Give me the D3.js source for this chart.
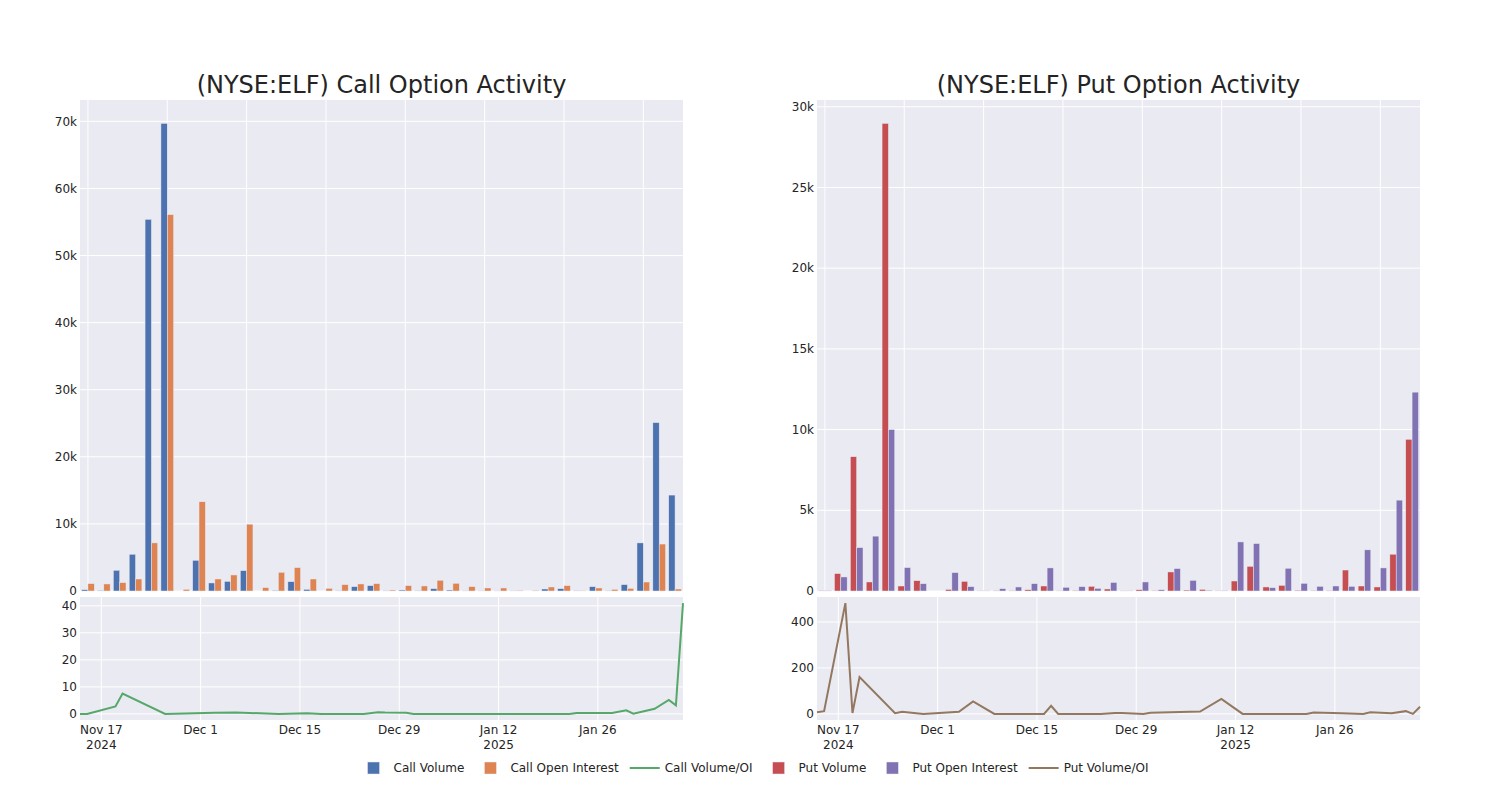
<!DOCTYPE html>
<html>
<head>
<meta charset="utf-8">
<script src="https://cdn.jsdelivr.net/npm/d3@7"></script>
<style>
  body { margin: 0; background: #ffffff; }
  svg text { font-family: "DejaVu Sans", sans-serif; fill: #242424; }
</style>
</head>
<body>
<div id="container"></div>
<script>
/* DATA */
// one category per trading day shown in the bar panels
const barDates = [
  "2024-11-14","2024-11-15","2024-11-18","2024-11-19","2024-11-20","2024-11-21","2024-11-22","2024-11-25",
  "2024-11-26","2024-11-29","2024-12-03","2024-12-04","2024-12-06","2024-12-09","2024-12-12","2024-12-16",
  "2024-12-17","2024-12-18","2024-12-20","2024-12-24","2024-12-26","2024-12-27","2024-12-30","2024-12-31",
  "2025-01-03","2025-01-07","2025-01-10","2025-01-13","2025-01-17","2025-01-22","2025-01-23","2025-01-28",
  "2025-01-30","2025-01-31","2025-02-03","2025-02-05","2025-02-06","2025-02-07"
];
const callVolume = [200,100,3090,5480,55400,69700,0,4580,1200,1440,3040,0,100,1390,250,0,
  30,650,800,30,150,50,350,150,20,20,20,20,0,300,350,30,650,50,950,7170,25100,14300];
const callOpenInterest = [1100,1050,1250,1790,7170,56100,250,13300,1790,2390,9960,500,2790,3490,1790,400,
  950,1050,1100,150,800,750,1600,1150,650,450,450,100,100,600,800,30,450,250,400,1340,7000,300];
const putVolume = [30,1080,8320,560,28970,310,640,0,100,600,10,30,30,80,310,20,
  40,290,125,20,80,30,1180,60,100,10,620,1530,250,350,50,30,30,1300,310,250,2280,9400];
const putOpenInterest = [30,870,2690,3400,10000,1450,455,0,1140,270,20,145,250,455,1430,230,
  270,165,530,20,560,80,1390,660,50,30,3040,2940,205,1410,475,290,310,290,2550,1430,5630,12320];

// volume / OI lines (dates on a time axis)
const callRatioDates = ["2024-11-14","2024-11-15","2024-11-19","2024-11-20","2024-11-26","2024-12-03","2024-12-06",
  "2024-12-12","2024-12-16","2024-12-18","2024-12-24","2024-12-26","2024-12-27","2024-12-30","2024-12-31",
  "2025-01-22","2025-01-23","2025-01-28","2025-01-30","2025-01-31","2025-02-03","2025-02-05","2025-02-06","2025-02-07"];
const callRatio = [0,0,2.75,7.5,0,0.4,0.5,0,0.25,0,0,0.6,0.5,0.4,0,0,0.3,0.3,1.3,0.1,1.9,5.2,3.2,41];

const putRatioDates = ["2024-11-14","2024-11-15","2024-11-18","2024-11-19","2024-11-20","2024-11-25","2024-11-26",
  "2024-11-29","2024-12-04","2024-12-06","2024-12-09","2024-12-16","2024-12-17","2024-12-18","2024-12-24",
  "2024-12-26","2024-12-27","2024-12-30","2024-12-31","2025-01-07","2025-01-10","2025-01-13","2025-01-22",
  "2025-01-23","2025-01-27","2025-01-30","2025-01-31","2025-02-03","2025-02-05","2025-02-06","2025-02-07"];
const putRatio = [7,12,482,4,160,3,9,0,9,54,0,0,35,0,0,4,4,0,5,10,65,0,0,6,3,0,7,3,12,0,31];

const dateTicks = ["2024-11-17","2024-12-01","2024-12-15","2024-12-29","2025-01-12","2025-01-26"];

/* CONSTANTS */
const W = 1500, H = 800;
const topY = [100, 591];
const botY = [597, 720];
const parseDate = d3.utcParse("%Y-%m-%d");
const bg = "#EAEAF2";

const svg = d3.select("#container")
  .append("svg")
  .attr("width", W)
  .attr("height", H);

function drawPanel(p) {
  const g = svg.append("g");

  // top: grouped bars on a category axis
  const x0 = d3.scaleBand()
    .domain(d3.range(barDates.length))
    .range([p.left, p.right])
    .paddingInner(0.2)
    .paddingOuter(0.1);
  const x1 = d3.scaleBand()
    .domain([0, 1])
    .range([0, x0.bandwidth()]);
  const yTop = d3.scaleLinear()
    .domain([0, d3.max(p.bars[0].concat(p.bars[1])) * 1.05])
    .range([topY[1], topY[0]]);

  g.append("rect")
    .attr("x", p.left).attr("y", topY[0])
    .attr("width", p.right - p.left).attr("height", topY[1] - topY[0])
    .attr("fill", bg);

  g.selectAll(".ygrid")
    .data(yTop.ticks(p.topTicks))
    .join("line")
    .attr("x1", p.left).attr("x2", p.right)
    .attr("y1", d => yTop(d)).attr("y2", d => yTop(d))
    .attr("stroke", "#fff").attr("stroke-width", 1);

  g.selectAll(".xgrid")
    .data(d3.range(0, barDates.length, 5))
    .join("line")
    .attr("x1", d => x0(d) + x0.bandwidth() / 2).attr("x2", d => x0(d) + x0.bandwidth() / 2)
    .attr("y1", topY[0]).attr("y2", topY[1])
    .attr("stroke", "#fff").attr("stroke-width", 1);

  g.selectAll(".ylab")
    .data(yTop.ticks(p.topTicks))
    .join("text")
    .attr("x", p.left - 3)
    .attr("y", d => yTop(d))
    .attr("dy", "0.35em")
    .attr("text-anchor", "end")
    .style("font-size", "12px")
    .text(d => d3.format("~s")(d));

  p.bars.forEach((series, s) => {
    g.selectAll(".bar" + s)
      .data(series)
      .join("rect")
      .attr("x", (d, i) => x0(i) + x1(s))
      .attr("y", d => yTop(d))
      .attr("width", x1.bandwidth())
      .attr("height", d => yTop(0) - yTop(d))
      .attr("fill", p.colors[s])
      .attr("stroke", bg)
      .attr("stroke-width", 0.5);
  });

  // bottom: volume/OI line on a date axis
  const dates = p.ratioDates.map(parseDate);
  const xTime = d3.scaleUtc()
    .domain(d3.extent(dates))
    .range([p.left, p.right]);
  const ext = d3.extent(p.ratio);
  const pad = (ext[1] - ext[0]) * 0.055;
  const yBot = d3.scaleLinear()
    .domain([ext[0] - pad, ext[1] + pad])
    .range([botY[1], botY[0]]);

  g.append("rect")
    .attr("x", p.left).attr("y", botY[0])
    .attr("width", p.right - p.left).attr("height", botY[1] - botY[0])
    .attr("fill", bg);

  g.selectAll(".bygrid")
    .data(yBot.ticks(p.botTicks))
    .join("line")
    .attr("x1", p.left).attr("x2", p.right)
    .attr("y1", d => yBot(d)).attr("y2", d => yBot(d))
    .attr("stroke", "#fff").attr("stroke-width", 1);

  const ticks = dateTicks.map(parseDate);
  g.selectAll(".bxgrid")
    .data(ticks)
    .join("line")
    .attr("x1", d => xTime(d)).attr("x2", d => xTime(d))
    .attr("y1", botY[0]).attr("y2", botY[1])
    .attr("stroke", "#fff").attr("stroke-width", 1);

  g.selectAll(".bylab")
    .data(yBot.ticks(p.botTicks))
    .join("text")
    .attr("x", p.left - 3)
    .attr("y", d => yBot(d))
    .attr("dy", "0.35em")
    .attr("text-anchor", "end")
    .style("font-size", "12px")
    .text(d => d);

  const xlab = g.selectAll(".xlab")
    .data(ticks)
    .join("text")
    .attr("text-anchor", "middle")
    .style("font-size", "12px");
  xlab.append("tspan")
    .attr("x", d => xTime(d))
    .attr("y", 734)
    .text(d3.utcFormat("%b %-d"));
  xlab.filter((d, i) => i === 0 || d.getUTCMonth() === 0 && d.getUTCDate() <= 14)
    .append("tspan")
    .attr("x", d => xTime(d))
    .attr("y", 749)
    .text(d3.utcFormat("%Y"));

  const line = d3.line()
    .x((d, i) => xTime(dates[i]))
    .y(d => yBot(d));
  g.append("path")
    .datum(p.ratio)
    .attr("d", line)
    .attr("fill", "none")
    .attr("stroke", p.lineColor)
    .attr("stroke-width", 2);

  // title
  g.append("text")
    .attr("x", (p.left + p.right) / 2)
    .attr("y", 93)
    .attr("text-anchor", "middle")
    .style("font-size", "24px")
    .text(p.title);
}

drawPanel({
  left: 80, right: 683,
  title: "(NYSE:ELF) Call Option Activity",
  bars: [callVolume, callOpenInterest],
  colors: ["#4C72B0", "#DD8452"],
  ratioDates: callRatioDates, ratio: callRatio,
  lineColor: "#55A868",
  topTicks: 8, botTicks: 5
});

drawPanel({
  left: 817, right: 1420,
  title: "(NYSE:ELF) Put Option Activity",
  bars: [putVolume, putOpenInterest],
  colors: ["#C44E52", "#8172B3"],
  ratioDates: putRatioDates, ratio: putRatio,
  lineColor: "#937860",
  topTicks: 7, botTicks: 3
});

/* LEGEND */
const legendItems = [
  { label: "Call Volume", type: "bar", color: "#4C72B0" },
  { label: "Call Open Interest", type: "bar", color: "#DD8452" },
  { label: "Call Volume/OI", type: "line", color: "#55A868" },
  { label: "Put Volume", type: "bar", color: "#C44E52" },
  { label: "Put Open Interest", type: "bar", color: "#8172B3" },
  { label: "Put Volume/OI", type: "line", color: "#937860" }
];
const legend = svg.append("g");
const legendY = 768;
let cursor = 0;
const placed = legendItems.map(item => {
  const t = legend.append("text")
    .attr("y", legendY)
    .attr("dy", "0.35em")
    .style("font-size", "12px")
    .text(item.label);
  const w = t.node().getComputedTextLength();
  const start = cursor;
  cursor += 40 + w + 6;
  return { item, t, start, w };
});
const total = cursor - 6;
const offset = 751 - total / 2;
placed.forEach(({ item, t, start }) => {
  const s = offset + start;
  t.attr("x", s + 40);
  if (item.type === "bar") {
    legend.append("rect")
      .attr("x", s + 14).attr("y", legendY - 6)
      .attr("width", 12).attr("height", 12)
      .attr("fill", item.color)
      .attr("stroke", bg).attr("stroke-width", 0.5);
  } else {
    legend.append("line")
      .attr("x1", s + 5).attr("x2", s + 35)
      .attr("y1", legendY).attr("y2", legendY)
      .attr("stroke", item.color).attr("stroke-width", 2);
  }
});
</script>
</body>
</html>
